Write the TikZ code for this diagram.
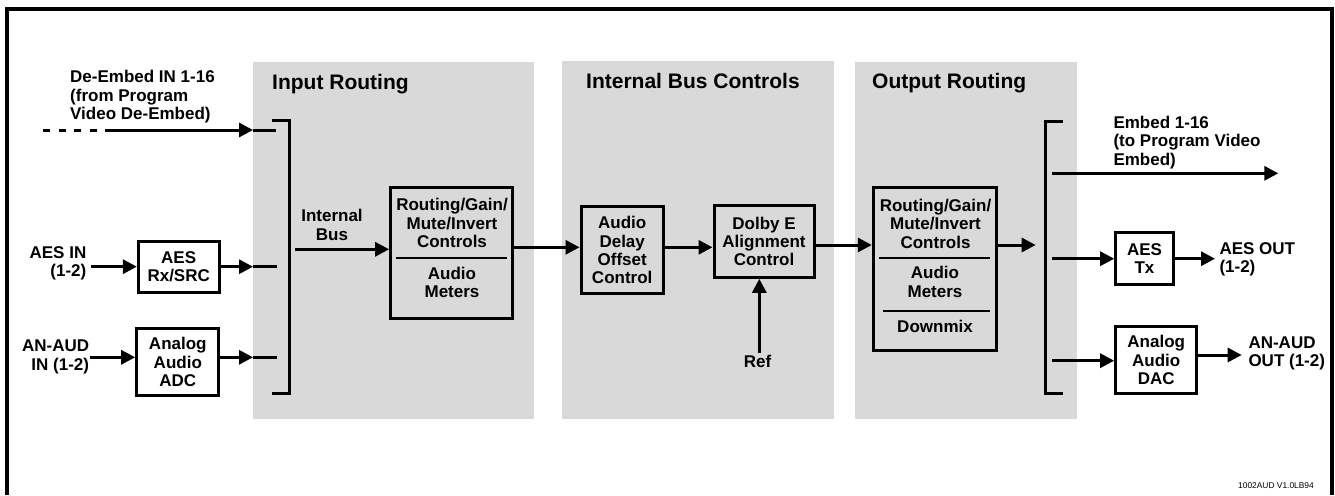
\documentclass[tikz,border=0pt]{standalone}
\usepackage{fontspec}
\setmainfont{Liberation Sans}
\usetikzlibrary{arrows.meta}
\definecolor{panel}{RGB}{217,217,217}
\begin{document}
\begin{tikzpicture}[x=1pt,y=-1pt,
  lbl/.style={font=\fontsize{17}{18.4}\selectfont\bfseries, inner sep=0pt},
  ttl/.style={font=\fontsize{21}{24}\selectfont\bfseries, inner sep=0pt},
  blk/.style={draw, line width=3pt, inner sep=0pt, align=center, font=\fontsize{17}{18.4}\selectfont\bfseries},
  wire/.style={line width=3pt},
  divider/.style={line width=2pt},
  arr/.style={line width=3pt, -{Triangle[length=14pt,width=14pt]}}]
\useasboundingbox (0,0) rectangle (1335,495);
% frame
\draw[line width=3.5pt] (7,495) -- (7,9) -- (1332,9) -- (1332,495);
% panels
\fill[panel] (253,62) rectangle (534,419);
\fill[panel] (562,61) rectangle (834,419);
\fill[panel] (855,62) rectangle (1077,419);
% titles
\node[ttl, anchor=base west] (t1) at (272,89.5) {Input Routing};
\node[ttl, anchor=base west] (t2) at (586,88.5) {Internal Bus Controls};
\node[ttl, anchor=base west] (t3) at (872,88.5) {Output Routing};
% blocks
\node[blk, minimum width=80.7pt, minimum height=51.3pt] (aesrx) at (178.7,266.7) {AES\\Rx/SRC};
\node[blk, minimum width=82.3pt, minimum height=67pt] (adc) at (177.8,362.2) {Analog\\Audio\\ADC};
\node[blk, minimum width=122.3pt, minimum height=130.6pt] (rg1) at (451.8,253) {};
\node[lbl, align=center] (rg1a) at (452,223.3) {Routing/Gain/\\Mute/Invert\\Controls};
\node[lbl, align=center] (rg1b) at (452,282.3) {Audio\\Meters};
\draw[divider] (396,258) -- (506.7,258);
\node[blk, minimum width=82.3pt, minimum height=87.3pt] (delay) at (622.2,250.3) {Audio\\Delay\\Offset\\Control};
\node[blk, minimum width=100pt, minimum height=71.6pt] (dolby) at (764,241.5) {Dolby E\\Alignment\\Control};
\node[lbl] (ref) at (757.5,361.8) {Ref};
\node[blk, minimum width=123.4pt, minimum height=163.3pt] (rg2) at (935,269.3) {};
\node[lbl, align=center] (rg2a) at (935.5,223.9) {Routing/Gain/\\Mute/Invert\\Controls};
\node[lbl, align=center] (rg2b) at (935,282) {Audio\\Meters};
\node[lbl, align=center] (rg2c) at (935,326.4) {Downmix};
\draw[divider] (879,258.3) -- (990,258.3);
\draw[divider] (883,311) -- (990,311);
\node[blk, minimum width=57.6pt, minimum height=52.3pt] (aestx) at (1144.5,258.8) {AES\\Tx};
\node[blk, minimum width=81pt, minimum height=67.3pt] (dac) at (1156.2,360.3) {Analog\\Audio\\DAC};
% labels
\node[lbl, align=left, anchor=west] (deemb) at (70,96.7) {De-Embed IN 1-16\\(from Program\\Video De-Embed)};
\node[lbl, align=right, anchor=east] (aesin) at (86.5,263.3) {AES IN\\(1-2)};
\node[lbl, align=right, anchor=east] (anin) at (89.3,356.8) {AN-AUD\\IN (1-2)};
\node[lbl, align=center] (ibus) at (332,224.9) {Internal\\Bus};
\node[lbl, align=left, anchor=west] (emb) at (1113.3,142.5) {Embed 1-16\\(to Program Video\\Embed)};
\node[lbl, align=left, anchor=west] (aesout) at (1219.3,259.5) {AES OUT\\(1-2)};
\node[lbl, align=left, anchor=west] (anout) at (1248.3,353.5) {AN-AUD\\OUT (1-2)};
\node[font=\fontsize{8.4}{10}\selectfont, anchor=base east, inner sep=0pt] (ver) at (1314,488.3) {1002AUD V1.0LB94};
% brackets
\coordinate (ib1) at (289,120);
\coordinate (ib2) at (289,393.3);
\draw[wire] (272,120) -- (ib1) -- (ib2) -- (272,393.3);
\coordinate (ob1) at (1045,121);
\coordinate (ob2) at (1045,393.3);
\draw[wire] (1062.7,121) -- (ob1) -- (ob2) -- (1062.7,393.3);
% input connectors
\coordinate (deA) at (43.3,130);
\coordinate (deB) at (98.3,130);
\coordinate (deC) at (105,130);
\coordinate (deT) at (253,130);
\coordinate (deE) at (276,130);
\draw[line width=3pt, dash pattern=on 7pt off 8.5pt] (deA) -- (deB);
\draw[arr] (deC) -- (deT);
\draw[wire] (deT) -- (deE);
\coordinate (aesA) at (91,266.7);
\draw[arr] (aesA) -- (aesA -| aesrx.west);
\coordinate (aesT) at (253,266.7);
\coordinate (aesE) at (277,266.7);
\draw[arr] (aesT -| aesrx.east) -- (aesT);
\draw[wire] (aesT) -- (aesE);
\coordinate (adcA) at (90,357.3);
\draw[arr] (adcA) -- (adcA -| adc.west);
\coordinate (adcT) at (253,357.3);
\coordinate (adcE) at (277,357.3);
\draw[arr] (adcT -| adc.east) -- (adcT);
\draw[wire] (adcT) -- (adcE);
% internal chain
\coordinate (ibA) at (295,249.3);
\draw[arr] (ibA) -- (ibA -| rg1.west);
\coordinate (m1) at (0,247.3);
\draw[arr] (rg1.east |- m1) -- (delay.west |- m1);
\draw[arr] (delay.east |- m1) -- (dolby.west |- m1);
\coordinate (m2) at (0,245);
\draw[arr] (dolby.east |- m2) -- (rg2.west |- m2);
\coordinate (obT) at (1035.7,245);
\draw[arr] (rg2.east |- obT) -- (obT);
\coordinate (refA) at (759.3,353);
\draw[arr] (refA) -- (refA |- dolby.south);
% outputs
\coordinate (embA) at (1052,173.3);
\coordinate (embB) at (1278.3,173.3);
\draw[arr] (embA) -- (embB);
\coordinate (txA) at (1052,258.7);
\coordinate (txB) at (1215,258.7);
\draw[arr] (txA) -- (txA -| aestx.west);
\draw[arr] (txB -| aestx.east) -- (txB);
\coordinate (dacA) at (1052,360.7);
\coordinate (dacB) at (1241.7,355);
\draw[arr] (dacA) -- (dacA -| dac.west);
\draw[arr] (dacB -| dac.east) -- (dacB);
\end{tikzpicture}
\end{document}
